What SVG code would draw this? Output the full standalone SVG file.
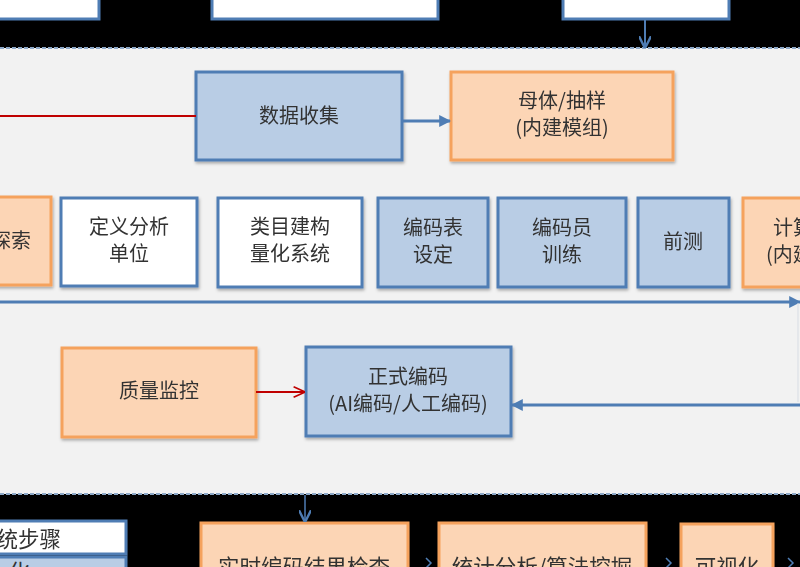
<svg xmlns="http://www.w3.org/2000/svg" width="800" height="567" viewBox="0 0 800 567">
<defs>
<style>
.bl{fill:#b9cde5;stroke:#4f7db4;stroke-width:3}
.wh{fill:#ffffff;stroke:#4f7db4;stroke-width:3}
.or{fill:#fcd5b5;stroke:#f5a25d;stroke-width:3}
.t{font-family:"Noto Sans CJK SC","Liberation Sans",sans-serif;font-size:20px;fill:#333;text-anchor:middle}
.tb{font-size:21.5px}
.cb{stroke:#4f7db4;stroke-width:3;fill:none}
.cr{stroke:#c00000;stroke-width:2;fill:none}
</style>
<marker id="ab" viewBox="0 0 10 10" refX="9" refY="5" markerWidth="4" markerHeight="4" orient="auto"><path d="M0,0L10,5L0,10z" fill="#4f7db4"/></marker>
<marker id="ar" viewBox="0 0 10 10" refX="9" refY="5" markerWidth="13" markerHeight="13" orient="auto" markerUnits="userSpaceOnUse"><path d="M1,1L10,5L1,9" fill="none" stroke="#c00000" stroke-width="1.3"/></marker>
<marker id="ao" viewBox="0 0 10 10" refX="9" refY="5" markerWidth="12" markerHeight="12" orient="auto" markerUnits="userSpaceOnUse"><path d="M0,0L10,5L0,10" fill="none" stroke="#4f7db4" stroke-width="2"/></marker>
<filter id="sh" x="-10%" y="-10%" width="125%" height="130%"><feDropShadow dx="1" dy="2" stdDeviation="1.5" flood-color="#000" flood-opacity="0.3"/></filter>
</defs>
<rect x="0" y="0" width="800" height="567" fill="#f2f2f2"/>
<rect x="0" y="0" width="800" height="48" fill="#000"/>
<rect x="0" y="494" width="800" height="73" fill="#000"/>
<line x1="0" y1="48" x2="800" y2="48" stroke="#8ea9c8" stroke-width="2" stroke-dasharray="4,2"/>
<line x1="0" y1="494" x2="800" y2="494" stroke="#8ea9c8" stroke-width="2" stroke-dasharray="4,2"/>

<g id="top1"><rect class="wh" x="-3" y="-5" width="102" height="24"/></g>
<g id="top2"><rect class="wh" x="212" y="-5" width="226" height="24"/></g>
<g id="top3"><rect class="wh" x="563" y="-5" width="166" height="24"/></g>

<g id="n-collect" filter="url(#sh)"><rect class="bl" x="196" y="72" width="206" height="88"/><text class="t" x="299" y="123">数据收集</text></g>
<g id="n-sample" filter="url(#sh)"><rect class="or" x="451" y="72" width="222" height="88"/><text class="t" x="562" y="108">母体/抽样</text><text class="t" x="562" y="135">(内建模组)</text></g>

<g id="n-explore" filter="url(#sh)"><rect class="or" x="-10" y="197" width="61" height="88"/><text class="t" x="31" y="248" style="text-anchor:end">探索</text></g>
<g id="n-unit" filter="url(#sh)"><rect class="wh" x="61" y="198" width="136" height="88"/><text class="t" x="129" y="234">定义分析</text><text class="t" x="129" y="261">单位</text></g>
<g id="n-category" filter="url(#sh)"><rect class="wh" x="218" y="198" width="144" height="89"/><text class="t" x="290" y="234">类目建构</text><text class="t" x="290" y="261">量化系统</text></g>
<g id="n-codebook" filter="url(#sh)"><rect class="bl" x="378" y="198" width="110" height="89"/><text class="t" x="433" y="235">编码表</text><text class="t" x="433" y="262">设定</text></g>
<g id="n-coder" filter="url(#sh)"><rect class="bl" x="498" y="198" width="128" height="89"/><text class="t" x="562" y="235">编码员</text><text class="t" x="562" y="262">训练</text></g>
<g id="n-pretest" filter="url(#sh)"><rect class="bl" x="638" y="198" width="91" height="89"/><text class="t" x="683" y="249">前测</text></g>
<g id="n-calc" filter="url(#sh)"><rect class="or" x="743" y="198" width="70" height="89"/><text class="t" x="773" y="235" style="text-anchor:start">计算</text><text class="t" x="766" y="262" style="text-anchor:start">(内建</text></g>

<g id="n-quality" filter="url(#sh)"><rect class="or" x="62" y="348" width="194" height="89"/><text class="t" x="159" y="398">质量监控</text></g>
<g id="n-formal" filter="url(#sh)"><rect class="bl" x="306" y="347" width="205" height="89"/><text class="t" x="408" y="384">正式编码</text><text class="t" x="408" y="411">(AI编码/人工编码)</text></g>

<g id="n-step" filter="url(#sh)"><rect class="wh" x="-5" y="521" width="131" height="33"/><text class="t tb" x="61" y="547" style="text-anchor:end">统步骤</text></g>
<g id="n-step2"><rect class="bl" x="-5" y="557" width="131" height="20"/><text class="t tb" x="30" y="580" style="text-anchor:end">化</text></g>
<g id="n-check" filter="url(#sh)"><rect class="or" x="201" y="523" width="207" height="60"/><text class="t tb" x="304" y="575">实时编码结果检查</text></g>
<g id="n-stats" filter="url(#sh)"><rect class="or" x="439" y="523" width="207" height="60"/><text class="t tb" x="542" y="575">统计分析/算法挖掘</text></g>
<g id="n-vis" filter="url(#sh)"><rect class="or" x="681" y="524" width="92" height="60"/><text class="t tb" x="727" y="575">可视化</text></g>

<g id="connectors">
<line x1="645" y1="19" x2="645" y2="47" stroke="#4f7db4" stroke-width="2" marker-end="url(#ao)"/>
<line class="cr" x1="0" y1="116" x2="196" y2="116"/>
<line class="cb" x1="402" y1="121" x2="450" y2="121" marker-end="url(#ab)"/>
<line class="cb" x1="0" y1="302" x2="800" y2="302" marker-end="url(#ab)"/>
<line x1="798" y1="303" x2="798" y2="402" stroke="#d8dde4" stroke-width="1"/>
<line class="cr" x1="256" y1="392" x2="304" y2="392" marker-end="url(#ar)"/>
<line class="cb" x1="800" y1="405" x2="512" y2="405" marker-end="url(#ab)"/>
<line x1="305" y1="495" x2="305" y2="521" stroke="#4f7db4" stroke-width="1.5" marker-end="url(#ao)"/>
<path d="M426,558l5,5l-5,5M666,558l5,5l-5,5M788,558l5,5l-5,5" fill="none" stroke="#4f7db4" stroke-width="1.5"/>
</g>
</svg>
